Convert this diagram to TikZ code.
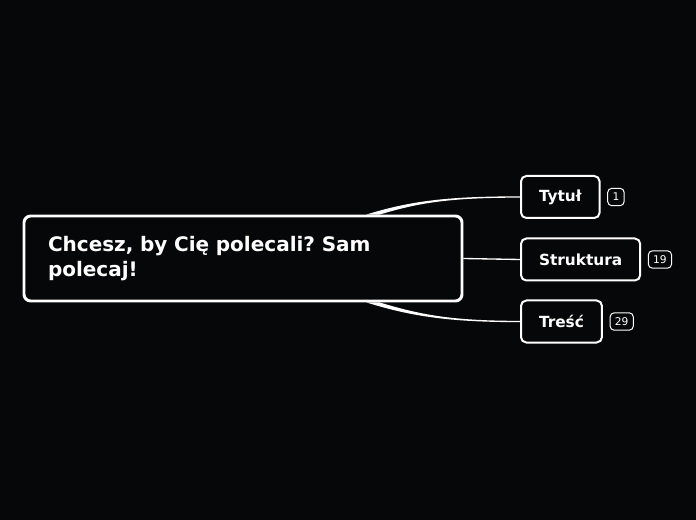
\documentclass[tikz,border=0pt]{standalone}
\usepackage{fontspec}
\setmainfont{DejaVu Sans}
\usetikzlibrary{positioning,calc}
\definecolor{bgcol}{HTML}{060709}
\frenchspacing
\tikzset{
  mainbox/.style={draw=white,line width=2.2pt,rounded corners=5pt,fill=bgcol,text=white,
    font=\fontsize{15pt}{18.75pt}\selectfont\bfseries,align=left,text width=292.5pt,
    inner xsep=18pt,minimum height=63.75pt},
  topicbox/.style={draw=white,line width=1.5pt,rounded corners=4pt,fill=bgcol,text=white,
    font=\fontsize{11.5pt}{13pt}\selectfont\bfseries,inner xsep=13.5pt,minimum height=31.5pt},
  countbox/.style={draw=white,line width=0.75pt,rounded corners=3pt,text=white,
    font=\fontsize{8pt}{9pt}\selectfont,inner xsep=3.6pt,inner ysep=1pt,minimum height=13pt}
}
\begin{document}
\begin{tikzpicture}[x=0.75pt,y=-0.75pt]
	%Background
	\fill[bgcol] (0,0) rectangle (696,520);
	\useasboundingbox (0,0) rectangle (696,520);
	%Nodes
	\node[mainbox] (M) at (243,258.5) {Chcesz, by Cię polecali? Sam\\polecaj!};
	\node[topicbox,anchor=west] (T1) at (520,197) {Tytuł};
	\node[topicbox,anchor=west] (T2) at (520,259.5) {Struktura};
	\node[topicbox,anchor=west] (T3) at (520,321.5) {Treść};
	\node[countbox,right=5pt of T1] (C1) {1};
	\node[countbox,right=5pt of T2] (C2) {19};
	\node[countbox,right=5pt of T3] (C3) {29};
	%Connectors
	\fill[white]
		($(M.north west)!0.78!(M.north east)$) .. controls +(45,-14) and +(-70,0) .. ([yshift=0.5pt]T1.west)
		-- ([yshift=-0.5pt]T1.west) .. controls +(-70,0) and +(40,-12) .. ($(M.north west)!0.81!(M.north east)$) -- cycle
		($(M.south west)!0.78!(M.south east)$) .. controls +(45,14) and +(-70,0) .. ([yshift=-0.5pt]T3.west)
		-- ([yshift=0.5pt]T3.west) .. controls +(-70,0) and +(40,12) .. ($(M.south west)!0.81!(M.south east)$) -- cycle
	;
	\draw[white,line width=1pt] (M.east) -- (T2.west);
	\end{tikzpicture}
\end{document}
